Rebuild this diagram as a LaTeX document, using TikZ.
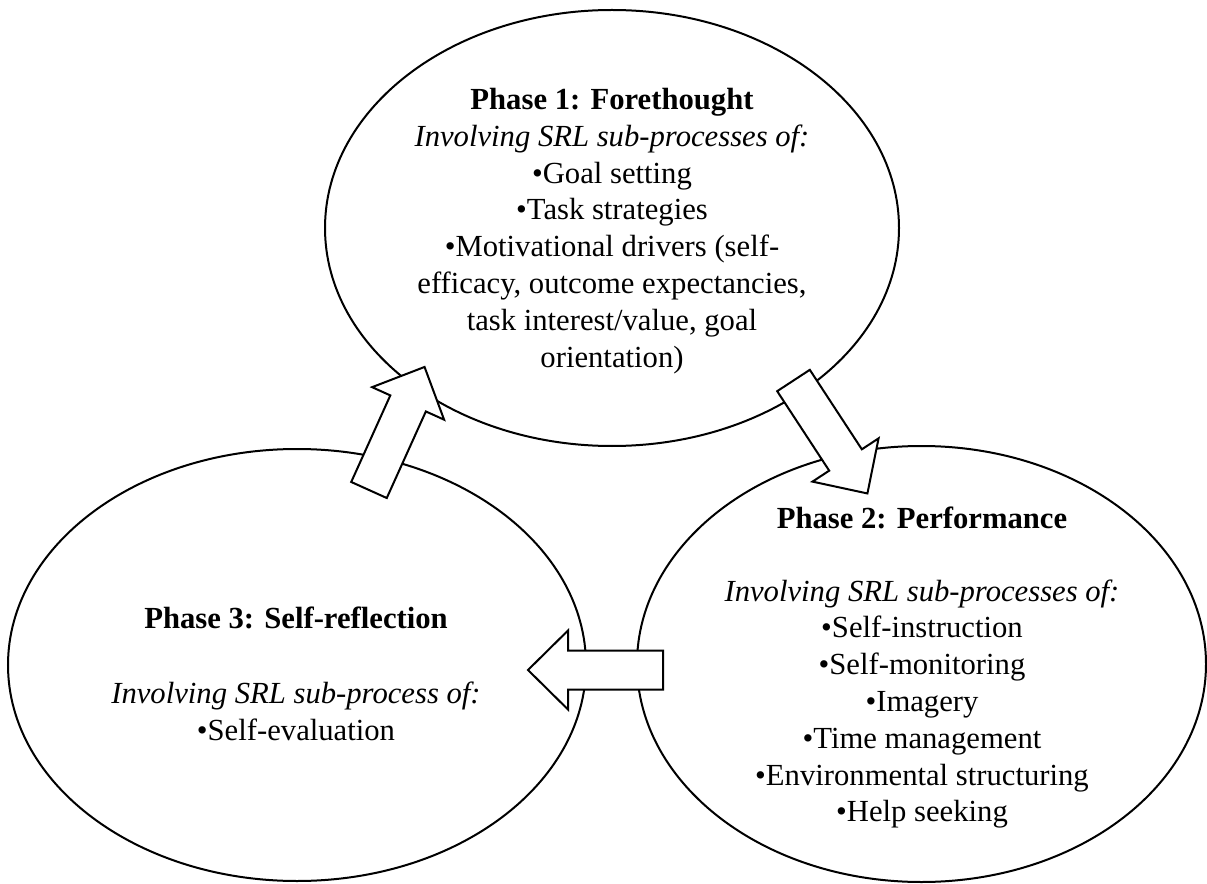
\documentclass[tikz,border=0pt]{standalone}
\usepackage{fontspec}
\setmainfont{Liberation Serif}
\usetikzlibrary{shapes.geometric}
\begin{document}
\begin{tikzpicture}[x=0.75pt,y=-0.75pt,
  phase/.style={draw, ellipse, line width=1.5pt, fill=white, inner sep=0pt},
  txt/.style={align=center, inner sep=0pt, font=\fontsize{23}{27.6}\selectfont},
  hd/.style={align=center, inner sep=0pt, font=\fontsize{23}{27.6}\selectfont\bfseries},
  blockarrow/.pic={
    \draw[line width=1.5pt, fill=white, line join=miter]
      (0,-19.5) -- (95,-19.5) -- (95,-39.5) -- (135,0) -- (95,39.5) -- (95,19.5) -- (0,19.5) -- cycle;}
]
\useasboundingbox (0,0) rectangle (1207,884);

% the three phases of the cycle
\node[phase, minimum width=430.5pt, minimum height=327pt] (p1) at (612,228) {};
\node[phase, minimum width=426.75pt, minimum height=327pt] (p2) at (921.5,664) {};
\node[phase, minimum width=433.5pt, minimum height=324pt] (p3) at (297,665) {};

% phase 1 text
\node[txt] (t1) at (612,231) {\textbf{Phase 1: Forethought}\\
  \textit{Involving SRL sub-processes of:}\\
  •Goal setting\\
  •Task strategies\\
  •Motivational drivers (self-\\
  efficacy, outcome expectancies,\\
  task interest/value, goal\\
  orientation)};

% phase 2 text
\node[hd] (h2) at (922,518) {Phase 2: Performance};
\node[txt] (t2) at (922,704) {\textit{Involving SRL sub-processes of:}\\
  •Self-instruction\\
  •Self-monitoring\\
  •Imagery\\
  •Time management\\
  •Environmental structuring\\
  •Help seeking};

% phase 3 text
\node[hd] (h3) at (296,618) {Phase 3: Self-reflection};
\node[txt] (t3) at (296,711) {\textit{Involving SRL sub-process of:}\\
  •Self-evaluation};

% block arrows linking the phases
\coordinate (a12) at (793.5,380.5);
\coordinate (a23) at (663,670);
\coordinate (a31) at (369,490);
\pic[rotate=-56.8] at (a12) {blockarrow};
\pic[rotate=180] at (a23) {blockarrow};
\pic[rotate=65.7] at (a31) {blockarrow};
\end{tikzpicture}
\end{document}
